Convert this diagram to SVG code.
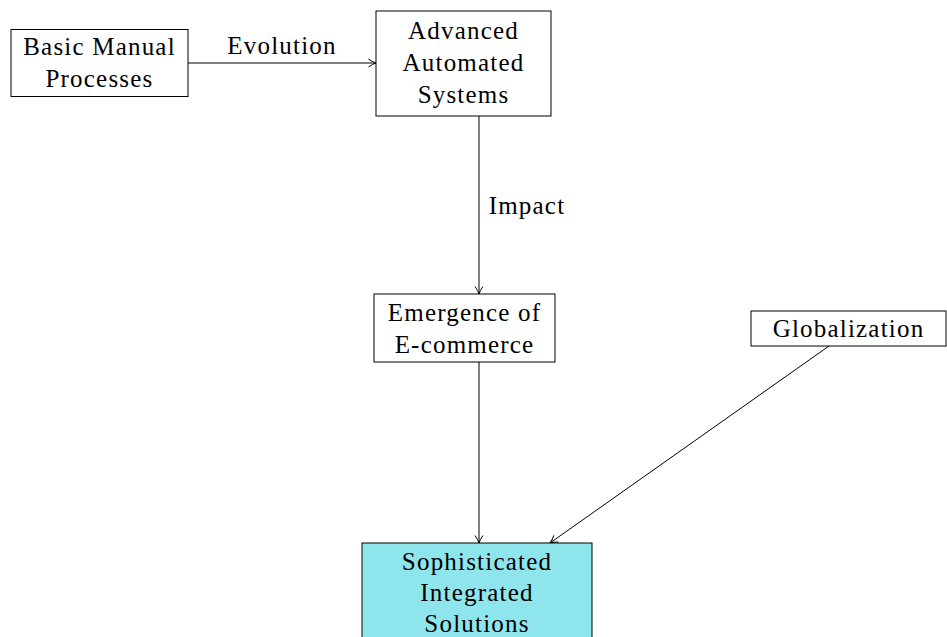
<svg xmlns="http://www.w3.org/2000/svg" width="947" height="637" viewBox="0 0 947 637">
<style>
.box{fill:#ffffff;stroke:#000;stroke-width:1}
.hl{fill:#8fe5ec;stroke:#000;stroke-width:1}
text{font-family:"Liberation Serif","Times New Roman",serif;font-size:25px;fill:#000;text-anchor:middle;letter-spacing:1.2px}
.edge{stroke:#000;stroke-width:1;fill:none;marker-end:url(#arr)}
</style>
<defs>
<marker id="arr" viewBox="0 0 10 10" refX="9.5" refY="5" markerWidth="10" markerHeight="10" markerUnits="userSpaceOnUse" orient="auto">
<path d="M2,1 Q6,4 9.5,5 Q6,6 2,9" fill="none" stroke="#000" stroke-width="1"/>
</marker>
</defs>
<rect width="947" height="637" fill="#fff"/>
<g id="connectors">
<line class="edge" x1="188" y1="63" x2="376" y2="63"/>
<text x="282" y="54">Evolution</text>
<line class="edge" x1="479" y1="116" x2="479" y2="294"/>
<text x="527" y="214">Impact</text>
<line class="edge" x1="479" y1="362" x2="479" y2="543"/>
<line class="edge" x1="829" y1="346" x2="550" y2="543"/>
</g>
<g id="basic">
<rect class="box" x="11" y="29.5" width="177" height="67"/>
<text x="99.5" y="55">Basic Manual</text>
<text x="99.5" y="87">Processes</text>
</g>
<g id="advanced">
<rect class="box" x="376" y="11" width="175" height="105"/>
<text x="463.5" y="39">Advanced</text>
<text x="463.5" y="71">Automated</text>
<text x="463.5" y="103">Systems</text>
</g>
<g id="ecommerce">
<rect class="box" x="374" y="294" width="181" height="68"/>
<text x="464.5" y="321">Emergence of</text>
<text x="464.5" y="353">E-commerce</text>
</g>
<g id="globalization">
<rect class="box" x="751" y="311" width="195" height="35"/>
<text x="848.5" y="337">Globalization</text>
</g>
<g id="solutions">
<rect class="hl" x="362" y="543" width="230" height="100"/>
<text x="477" y="570">Sophisticated</text>
<text x="477" y="601">Integrated</text>
<text x="477" y="632">Solutions</text>
</g>
</svg>
